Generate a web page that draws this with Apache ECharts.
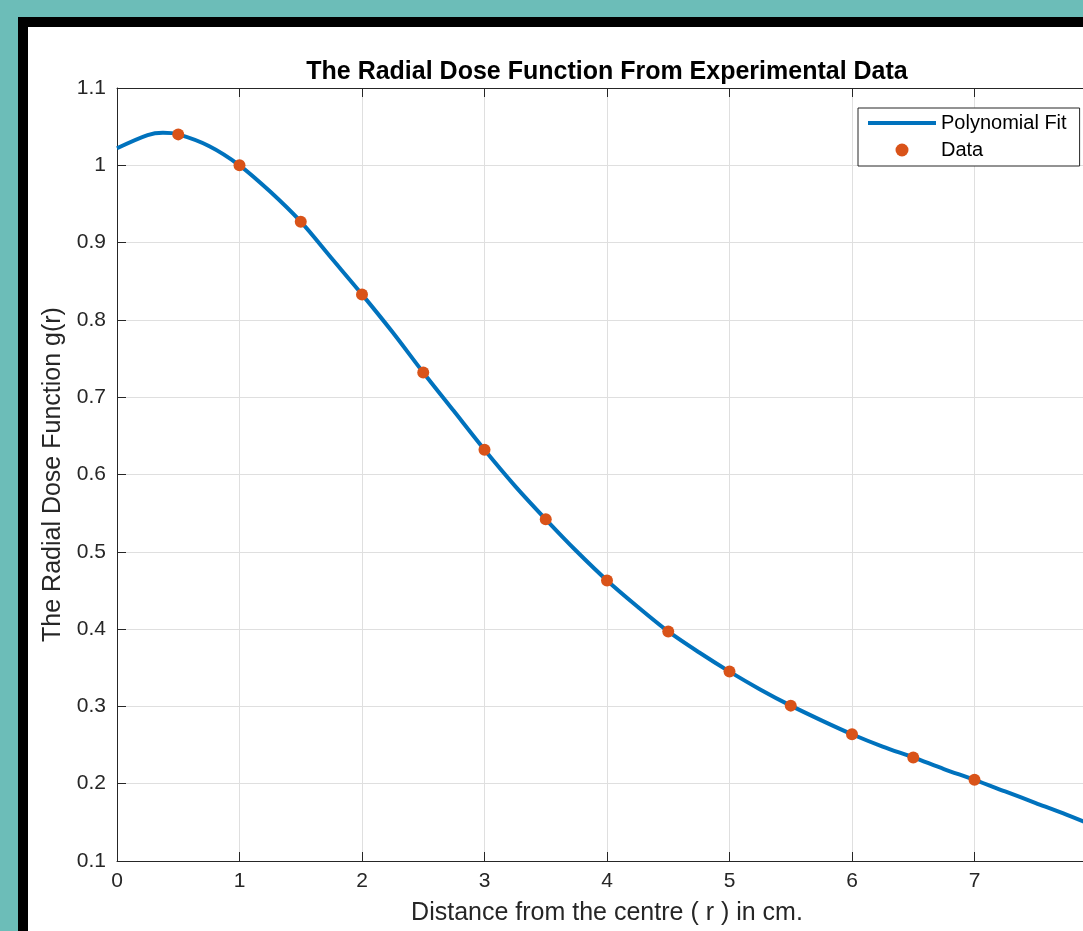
<!DOCTYPE html>
<html>
<head>
    <meta charset="utf-8">
    <title>Radial Dose Function</title>
    <script src="https://cdn.jsdelivr.net/npm/echarts@6/dist/echarts.min.js"></script>
    <style>
        html, body { margin: 0; padding: 0; overflow: hidden; background: #6cbdb8; }
        #frame {
            position: absolute; left: 18px; top: 17px;
            width: 1300px; height: 1100px;
            background: #fff; border: 10px solid #000;
        }
        #main { position: absolute; left: 0; top: 0; width: 1214px; height: 931px; }
    </style>
</head>
<body>
<div id="frame"></div>
<div id="main"></div>
<script>
    // measured points
    var dataX = [0.5, 1, 1.5, 2, 2.5, 3, 3.5, 4, 4.5, 5, 5.5, 6, 6.5, 7];
    var dataY = [1.040, 1.000, 0.927, 0.833, 0.732, 0.632, 0.542, 0.463, 0.397, 0.345, 0.301, 0.264, 0.234, 0.205];

    // polynomial fit
    var fitX = [0, 0.25, 0.375, 0.5, 0.75, 1, 1.25, 1.5, 1.75, 2, 2.25, 2.5, 2.75, 3, 3.25, 3.5, 3.75, 4,
                4.25, 4.5, 4.75, 5, 5.25, 5.5, 5.75, 6, 6.25, 6.5, 6.75, 7, 7.25, 7.5, 7.75, 8];
    var fitY = [1.022, 1.039, 1.042, 1.040, 1.025, 1.000, 0.966, 0.927, 0.880, 0.833, 0.784, 0.732, 0.682, 0.632, 0.585, 0.542, 0.501, 0.463,
                0.429, 0.397, 0.370, 0.345, 0.322, 0.301, 0.282, 0.264, 0.248, 0.234, 0.219, 0.205, 0.190, 0.175, 0.160, 0.144];

    var xTicks = [0, 1, 2, 3, 4, 5, 6, 7, 8];
    var yTicks = [0.1, 0.2, 0.3, 0.4, 0.5, 0.6, 0.7, 0.8, 0.9, 1.0, 1.1];

    var font = 'Liberation Sans, Arial, Helvetica, sans-serif';
    var axisColor = '#262626';

    var chart = echarts.init(document.getElementById('main'));
    chart.setOption({
        animation: false,
        title: {
            text: 'The Radial Dose Function From Experimental Data',
            left: 'center',
            top: 55,
            textStyle: { fontFamily: font, fontSize: 25, fontWeight: 'bold', color: '#000' }
        },
        legend: {
            orient: 'vertical',
            left: 858,
            top: 108,
            padding: [5, 13, 6, 8],
            itemGap: 7,
            itemWidth: 68,
            itemHeight: 13,
            backgroundColor: '#fff',
            borderColor: axisColor,
            borderWidth: 1,
            borderRadius: 0,
            textStyle: { fontFamily: font, fontSize: 20, color: '#000' },
            data: [
                {
                    name: 'Polynomial Fit',
                    itemStyle: { color: 'rgba(0,0,0,0)', borderWidth: 0 },
                    lineStyle: { width: 4, color: '#0072bd' }
                },
                { name: 'Data' }
            ]
        },
        grid: { left: 117, top: 88, width: 980, height: 774, containLabel: false },
        xAxis: [{
            type: 'value',
            min: xTicks[0],
            max: xTicks[xTicks.length - 1],
            interval: 1,
            name: 'Distance from the centre ( r ) in cm.',
            nameLocation: 'middle',
            nameGap: 40,
            nameTextStyle: { fontFamily: font, fontSize: 25, color: axisColor },
            axisLine: { lineStyle: { color: axisColor, width: 1 } },
            axisTick: { inside: true, length: 9, lineStyle: { color: axisColor } },
            axisLabel: { fontFamily: font, fontSize: 21, color: axisColor, margin: 10 },
            splitLine: { show: true, lineStyle: { color: '#dfdfdf', width: 1 } }
        }, {
            type: 'value',
            position: 'top',
            min: xTicks[0],
            max: xTicks[xTicks.length - 1],
            interval: 1,
            axisLine: { show: true, onZero: false, lineStyle: { color: axisColor, width: 1 } },
            axisTick: { inside: true, length: 9, lineStyle: { color: axisColor } },
            axisLabel: { show: false },
            splitLine: { show: false }
        }],
        yAxis: [{
            type: 'value',
            min: yTicks[0],
            max: yTicks[yTicks.length - 1],
            interval: 0.1,
            name: 'The Radial Dose Function g(r)',
            nameLocation: 'middle',
            nameGap: 48,
            nameTextStyle: { fontFamily: font, fontSize: 25, color: axisColor },
            axisLine: { show: true, lineStyle: { color: axisColor, width: 1 } },
            axisTick: { show: true, inside: true, length: 9, lineStyle: { color: axisColor } },
            axisLabel: {
                fontFamily: font, fontSize: 21, color: axisColor, margin: 11,
                formatter: function (v) { return String(+v.toFixed(1)); }
            },
            splitLine: { show: true, lineStyle: { color: '#dfdfdf', width: 1 } }
        }],
        series: [
            {
                name: 'Polynomial Fit',
                type: 'line',
                smooth: 0.3,
                symbol: 'none',
                clip: true,
                color: '#0072bd',
                lineStyle: { width: 4, color: '#0072bd' },
                data: fitX.map(function (x, i) { return [x, fitY[i]]; }),
                z: 2
            },
            {
                name: 'Data',
                type: 'scatter',
                symbol: 'circle',
                symbolSize: 12,
                color: '#d95319',
                itemStyle: { color: '#d95319', opacity: 1 },
                data: dataX.map(function (x, i) { return [x, dataY[i]]; }),
                z: 3
            }
        ]
    });
</script>
</body>
</html>
